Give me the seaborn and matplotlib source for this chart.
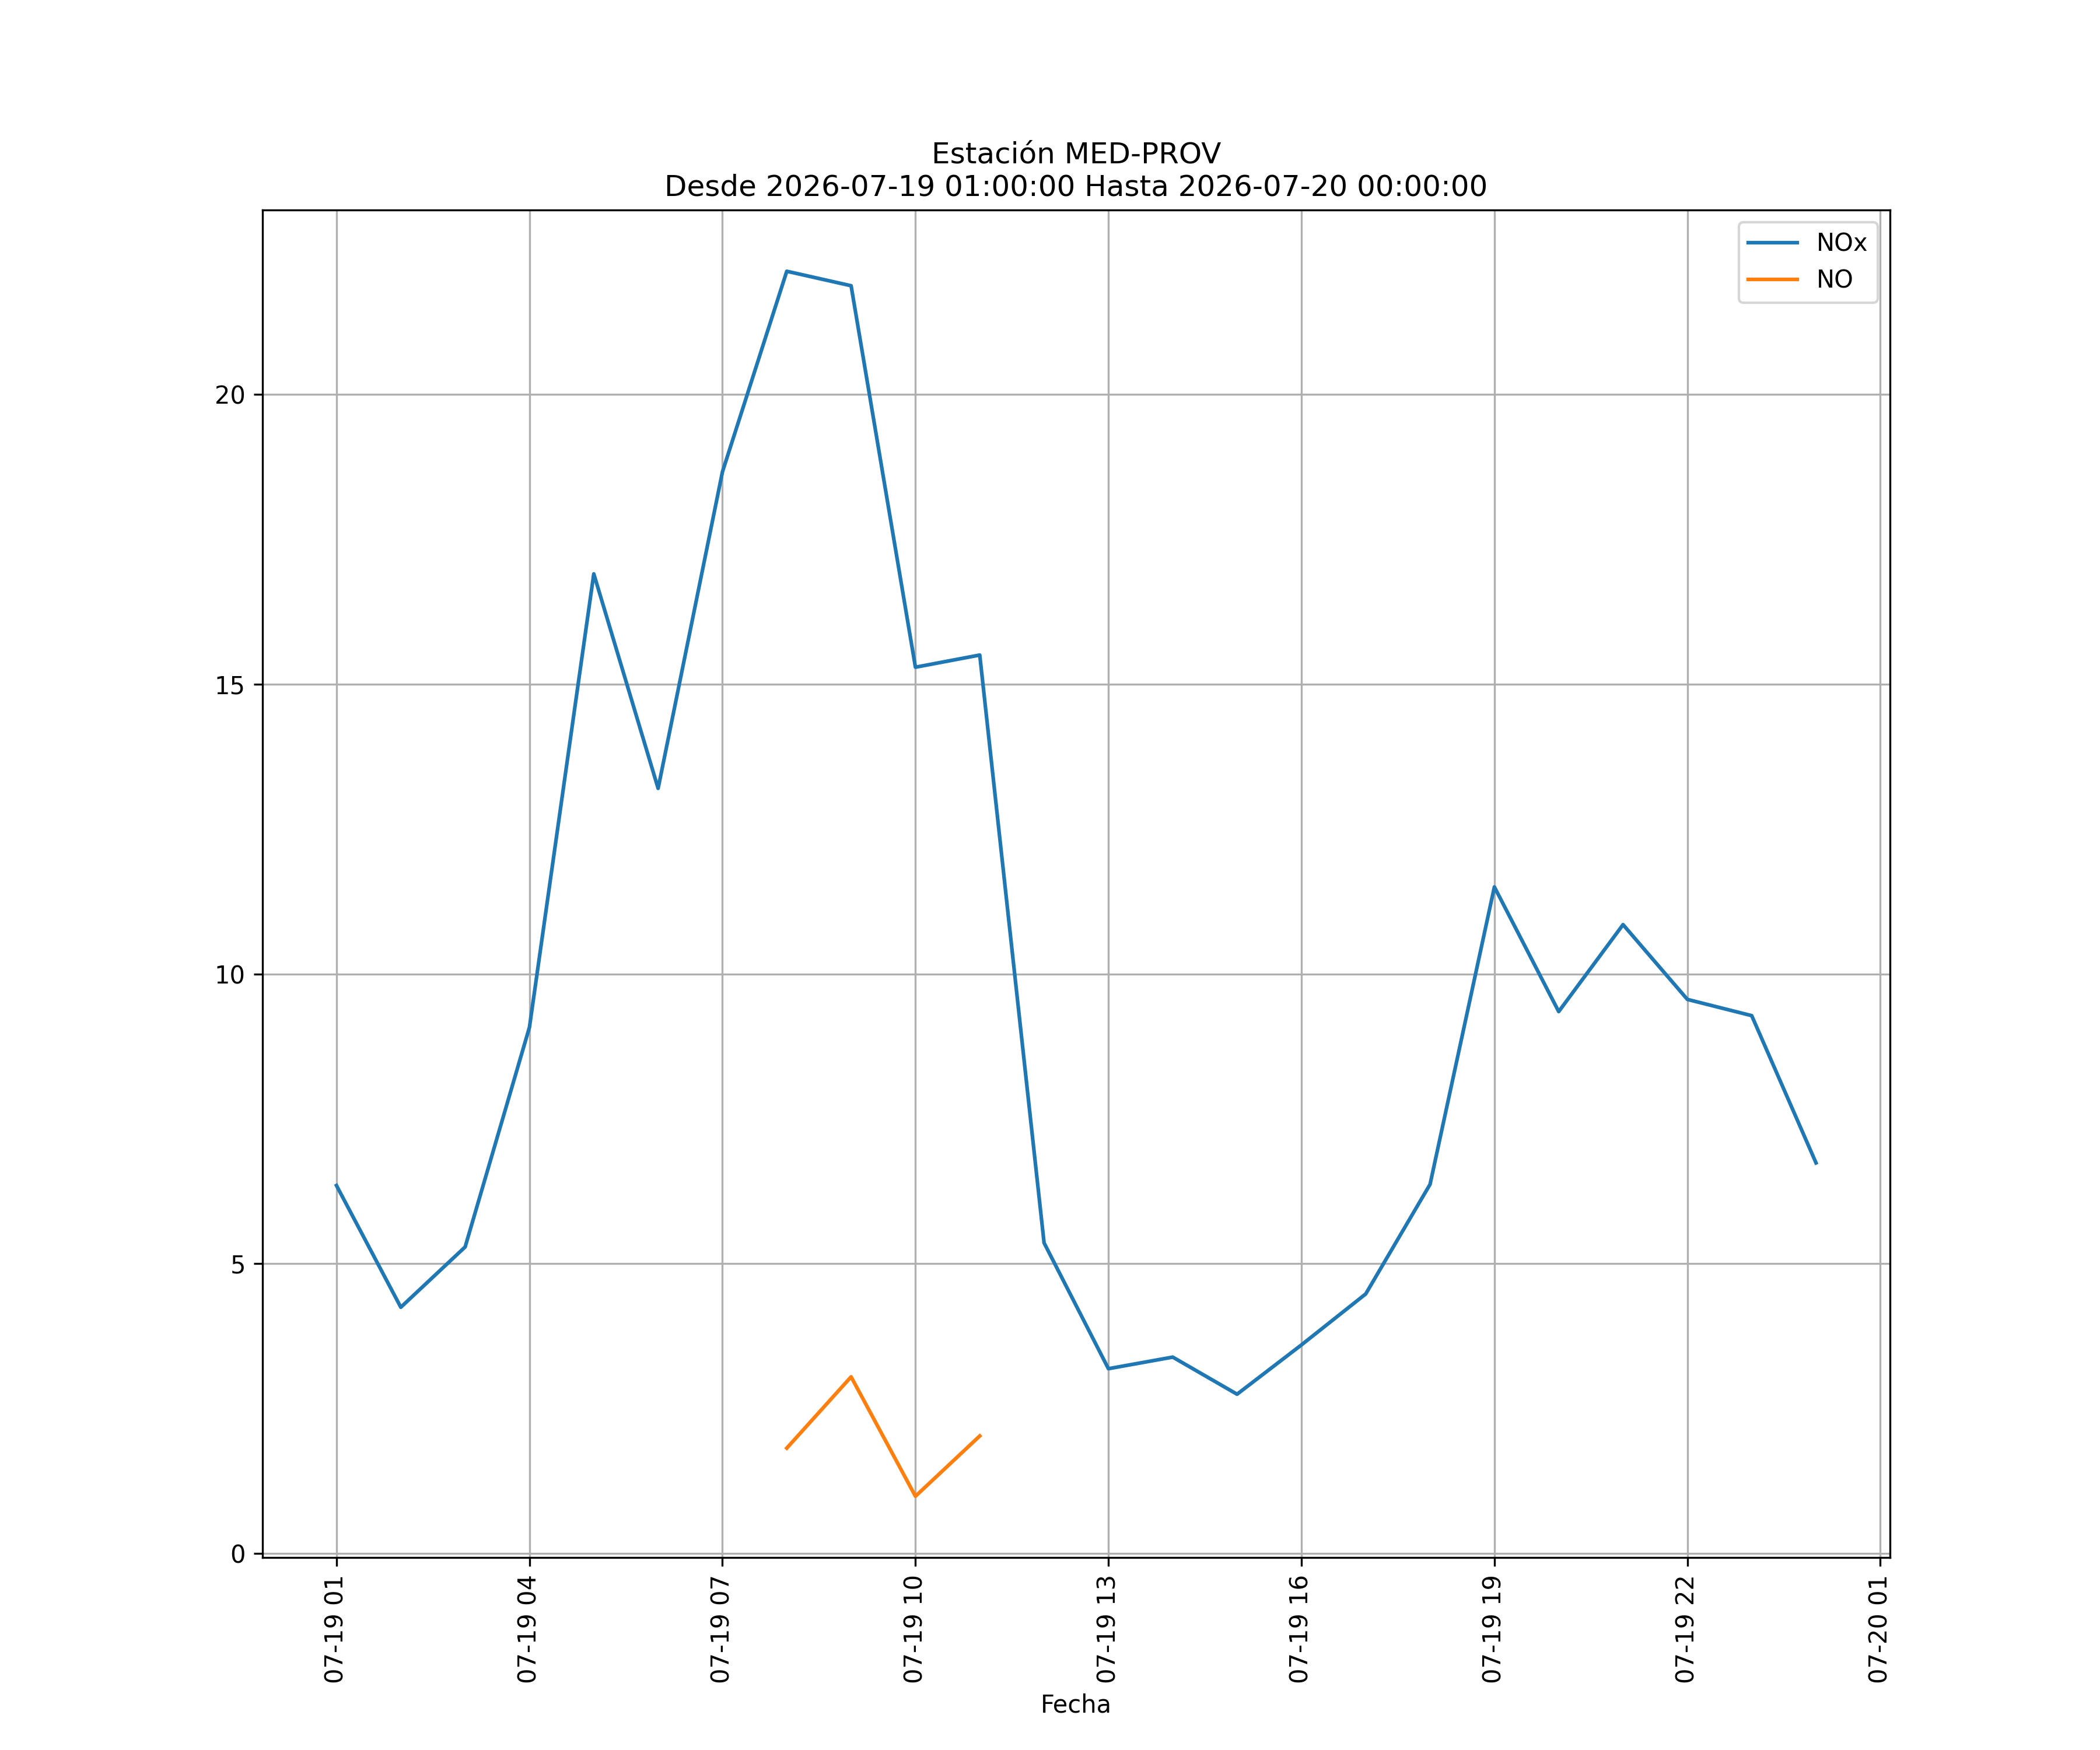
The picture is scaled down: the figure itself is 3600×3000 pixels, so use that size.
import pandas as pd
import numpy as np
import seaborn as sns
import matplotlib
matplotlib.use("Agg")
import matplotlib.pyplot as plt
import matplotlib.dates as mdates

horas = pd.date_range("2026-07-19 01:00:00", "2026-07-20 00:00:00", freq="h")

nox = [6.35, 4.25, 5.29, 9.08, 16.9, 13.2, 18.66, 22.12, 21.87, 15.29, 15.5, 5.36,
       3.19, 3.39, 2.75, 3.6, 4.48, 6.37, 11.5, 9.35, 10.85, 9.56, 9.28, 6.74]
no = [np.nan] * 7 + [1.82, 3.05, 0.99, 2.03] + [np.nan] * 13

datos = pd.DataFrame({"Fecha": horas, "NOx": nox, "NO": no})

fig, ax = plt.subplots(figsize=(12, 10))
sns.lineplot(data=datos, x="Fecha", y="NOx", ax=ax, label="NOx", color="tab:blue")
sns.lineplot(data=datos, x="Fecha", y="NO", ax=ax, label="NO", color="tab:orange")

ax.set_title("Estación MED-PROV\nDesde 2026-07-19 01:00:00 Hasta 2026-07-20 00:00:00")
ax.set_xlabel("Fecha")
ax.set_ylabel("")
ax.grid(True)
ax.legend(loc="upper right")

# ticks cada 3 horas empezando a la 01
ax.xaxis.set_major_locator(mdates.HourLocator(byhour=range(1, 24, 3)))
ax.xaxis.set_major_formatter(mdates.DateFormatter("%m-%d %H"))
plt.xticks(rotation=90)

plt.savefig("out.png", dpi=300)
